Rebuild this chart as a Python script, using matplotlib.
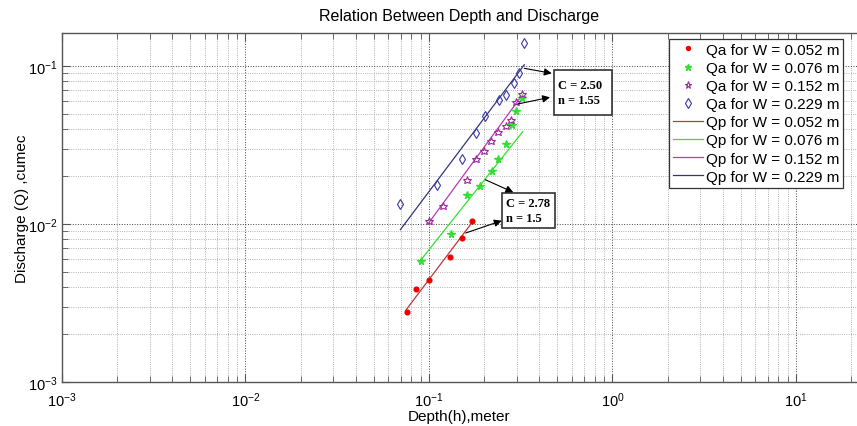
import matplotlib.pyplot as plt
import matplotlib.patches as patches

# ---- data (log-log) ----
widths = [0.052, 0.076, 0.152, 0.229]
labels_qa = [f"Qa for W = {w:.3f} m" for w in widths]
labels_qp = [f"Qp for W = {w:.3f} m" for w in widths]

# observed discharge Qa
h_a1 = [0.0756, 0.0853, 0.1004, 0.1307, 0.1513, 0.1709]
q_a1 = [0.00276, 0.00386, 0.00442, 0.00621, 0.00819, 0.01049]

h_a2 = [0.0905, 0.1313, 0.1604, 0.1904, 0.2213, 0.2377, 0.2618, 0.2833, 0.2990, 0.3212]
q_a2 = [0.00583, 0.00868, 0.01532, 0.01747, 0.02174, 0.02578, 0.03194, 0.04232, 0.05213, 0.0630]

h_a3 = [0.0996, 0.1197, 0.1601, 0.1797, 0.1987, 0.2177, 0.2386, 0.2618, 0.2798, 0.2990, 0.3212]
q_a3 = [0.01049, 0.01305, 0.01893, 0.02590, 0.02919, 0.03337, 0.03806, 0.04190, 0.04572, 0.05943, 0.06650]

h_a4 = [0.0698, 0.1103, 0.1507, 0.1811, 0.2019, 0.2407, 0.2618, 0.2917, 0.3083, 0.3306]
q_a4 = [0.01338, 0.01770, 0.02597, 0.03783, 0.04826, 0.06092, 0.06583, 0.07771, 0.08991, 0.1398]

# predicted discharge Qp (straight lines on log-log, end points)
h_p1 = [0.0749, 0.1709]
q_p1 = [0.002856, 0.01015]
h_p2 = [0.0882, 0.3240]
q_p2 = [0.005723, 0.03838]
h_p3 = [0.0996, 0.3105]
q_p3 = [0.01015, 0.0618]
h_p4 = [0.0698, 0.3306]
q_p4 = [0.009203, 0.1019]

fit_text_1 = "C = 2.50\nn = 1.55"
fit_text_2 = "C = 2.78\nn = 1.5"

plt.rcParams['font.family'] = ['Liberation Sans', 'DejaVu Sans']
plt.rcParams['mathtext.fontset'] = 'custom'
plt.rcParams['mathtext.rm'] = 'Liberation Sans'
plt.rcParams['mathtext.it'] = 'Liberation Sans'

fig = plt.figure(figsize=(8.57, 4.27), dpi=100, facecolor='white')
ax = fig.add_axes([62/857, 1 - 383/427, 795/857, 349/427])

# Qa markers
ax.plot(h_a1, q_a1, ls='none', marker='o', ms=3.4, color='#ee0000', mec='#ee0000', label=labels_qa[0], zorder=4)
ax.plot(h_a2, q_a2, ls='none', marker='*', ms=5.5, color='#33dd33', mec='#33dd33', label=labels_qa[1], zorder=4)
ax.plot(h_a3, q_a3, ls='none', marker='*', ms=6.2, mfc='none', mec='#9a2a9a', mew=0.8, label=labels_qa[2], zorder=4)
ax.plot(h_a4, q_a4, ls='none', marker='d', ms=5.5, mfc='none', mec='#3a3aa0', mew=0.8, label=labels_qa[3], zorder=4)

# Qp lines
ax.plot(h_p1, q_p1, color='#b83a3a', lw=0.9, label=labels_qp[0], zorder=3)
ax.plot(h_p2, q_p2, color='#33e033', lw=0.9, label=labels_qp[1], zorder=3)
ax.plot(h_p3, q_p3, color='#b83ab8', lw=0.9, label=labels_qp[2], zorder=3)
ax.plot(h_p4, q_p4, color='#34347a', lw=0.9, label=labels_qp[3], zorder=3)

ax.set_xscale('log')
ax.set_yscale('log')
ax.set_xlim(1e-3, 21.5)
ax.set_ylim(1e-3, 0.1618)

ax.grid(which='major', ls=':', color='#444444', lw=0.7)
ax.grid(which='minor', ls=':', color='#9a9a9a', lw=0.6)

for s in ['left', 'bottom', 'top']:
    ax.spines[s].set_color('#555555')
    ax.spines[s].set_linewidth(1.0)
ax.spines['right'].set_visible(False)
ax.tick_params(which='both', direction='in', top=True, right=False, colors='#555555', labelcolor='black', labelsize=10.5)
ax.tick_params(which='major', length=6)
ax.tick_params(which='minor', length=4)
ax.tick_params(axis='x', pad=6)

ax.set_title('Relation Between Depth and Discharge', fontsize=11.5, pad=9)
ax.set_xlabel('Depth(h),meter', fontsize=11, labelpad=0)
ax.set_ylabel('Discharge (Q) ,cumec', fontsize=11, labelpad=-1)

# fit boxes
def fx(x):
    return (x - 62) / 795

def fy(y):
    return (383 - y) / 349

for (x0, y0, x1, y1), txt in [((554, 70.7, 612, 116), fit_text_1), ((502, 194, 555, 229), fit_text_2)]:
    ax.add_patch(patches.Rectangle((fx(x0), fy(y1)), fx(x1) - fx(x0), fy(y0) - fy(y1),
                                   transform=ax.transAxes, facecolor='white', edgecolor='#333333',
                                   lw=1.2, zorder=6))
    ax.text(fx(x0 + 4), (fy(y0) + fy(y1)) / 2, txt, transform=ax.transAxes, ha='left', va='center',
            fontsize=9, fontweight='bold', family='Liberation Serif', linespacing=1.3, zorder=7)

arrows = [((524.3, 69.3), (551.7, 74.3)), ((517.7, 105), (550, 98.3)),
          ((485.3, 180.7), (513.3, 193.3)), ((465.7, 234), (501.7, 221.7))]
for (tx, ty), (hx, hy) in arrows:
    ax.annotate('', xy=(fx(hx), fy(hy)), xytext=(fx(tx), fy(ty)), xycoords='axes fraction',
                textcoords='axes fraction',
                arrowprops=dict(arrowstyle='-|>', color='black', lw=0.8, mutation_scale=11,
                                shrinkA=0, shrinkB=0), zorder=7)

leg = ax.legend(loc='upper left', bbox_to_anchor=(fx(669), fy(40)), fontsize=11, frameon=True,
                fancybox=False, framealpha=1, edgecolor='#333333', borderpad=0.25,
                labelspacing=0.27, handlelength=2.0, handletextpad=0.15, borderaxespad=0,
                markerscale=0.85)
leg.get_frame().set_linewidth(0.9)
leg.set_zorder(8)

fig.savefig('out.png', dpi=100, facecolor='white')
